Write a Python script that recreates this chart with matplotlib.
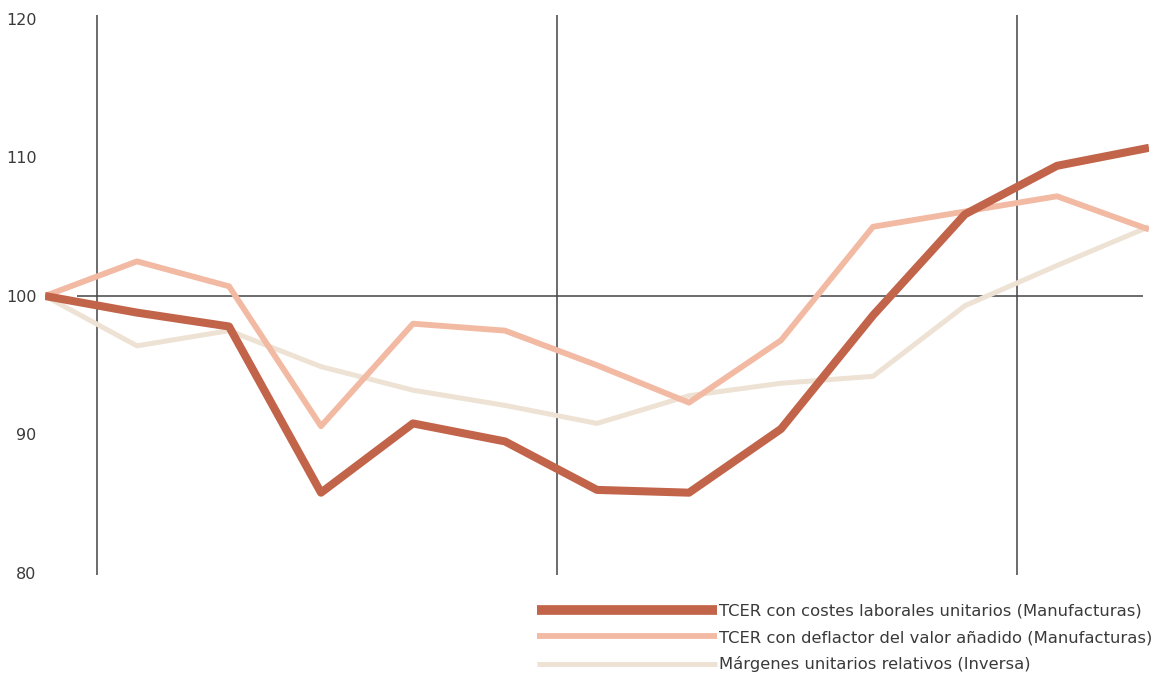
import numpy as np
import matplotlib
matplotlib.use("Agg")
import matplotlib.pyplot as plt

# quarterly points, 13 per series
periods = np.arange(13)
tcer_clu = [100.0, 98.8, 97.8, 85.8, 90.8, 89.5, 86.0, 85.8, 90.4, 98.6, 105.9, 109.4, 110.7]
tcer_deflactor = [100.0, 102.5, 100.7, 90.6, 98.0, 97.5, 95.0, 92.3, 96.8, 105.0, 106.1, 107.2, 104.8]
margenes = [100.0, 96.4, 97.5, 94.9, 93.2, 92.1, 90.8, 92.8, 93.7, 94.2, 99.3, 102.2, 105.0]

labels = ["TCER con costes laborales unitarios (Manufacturas)",
          "TCER con deflactor del valor añadido (Manufacturas)",
          "Márgenes unitarios relativos (Inversa)"]
yticks = [80, 90, 100, 110, 120]
year_lines = [0.565, 5.565, 10.565]

c_dark = "#c2644a"
c_mid = "#f2b9a3"
c_light = "#ede2d3"
txt = "#3a3a3a"

fig = plt.figure(figsize=(11.61, 6.81), dpi=100)
ax = fig.add_axes([45/1161, 1 - 573/681, (1149 - 45)/1161, (573 - 19)/681])
ax.set_xlim(0, 12)
ax.set_ylim(80, 120)

for xl in year_lines:
    ax.vlines(xl, 79.85, 120.3, color="#444444", lw=1.1, zorder=1, clip_on=False)
ax.hlines(100, 0.35, 11.93, color="#444444", lw=1.1, zorder=1)

ax.plot(periods, margenes, color=c_light, lw=3.6, solid_capstyle="butt", zorder=2, label=labels[2])
ax.plot(periods, tcer_deflactor, color=c_mid, lw=4.2, solid_capstyle="butt", zorder=3, label=labels[1])
ax.plot(periods, tcer_clu, color=c_dark, lw=5.8, solid_capstyle="butt", zorder=4, label=labels[0])

for s in ax.spines.values():
    s.set_visible(False)
ax.set_xticks([])
ax.set_yticks(yticks)
ax.tick_params(axis="y", length=0, pad=6, labelsize=11.5, labelcolor=txt)

h, l = ax.get_legend_handles_labels()
order = [2, 1, 0]
leg = fig.legend([h[i] for i in order], [l[i] for i in order],
                 loc="upper left", bbox_to_anchor=(537/1161, 1 - 604/681),
                 frameon=False, fontsize=11.8, handlelength=11.0, handletextpad=0.12,
                 labelspacing=0.68, borderpad=0, borderaxespad=0)
for t in leg.get_texts():
    t.set_color(txt)
leg.get_lines()[0].set_linewidth(7)

fig.savefig("out.png", dpi=100)
